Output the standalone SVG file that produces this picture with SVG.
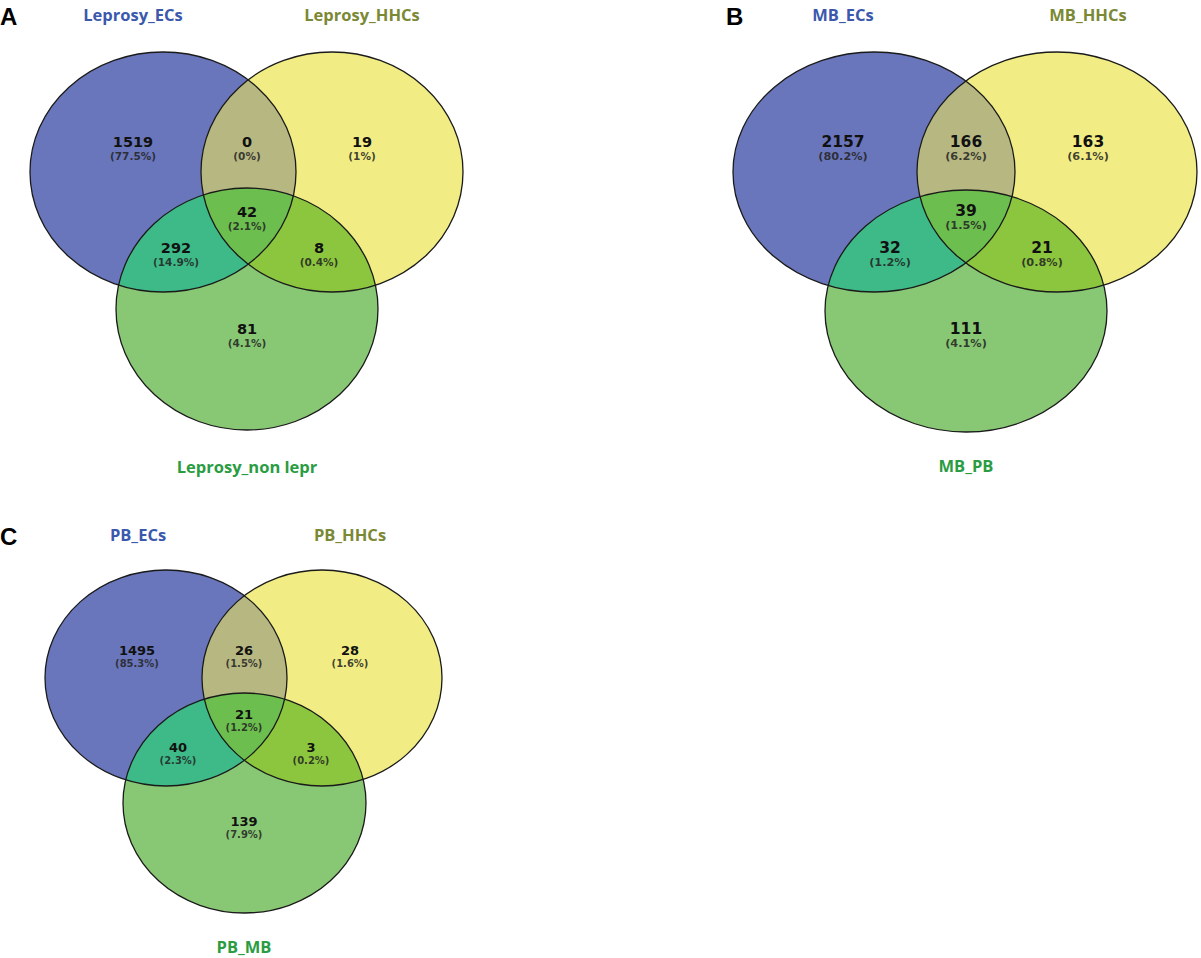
<svg xmlns="http://www.w3.org/2000/svg" width="1201" height="958" viewBox="0 0 1201 958">
<style>
.pl{font-family:"Liberation Sans",Arial,sans-serif;font-weight:bold;font-size:24px;fill:#000}
.lab{font-family:"Open Sans","Noto Sans",sans-serif;font-weight:bold;font-size:16.5px;text-anchor:middle}
.lb{fill:#3a59ad}.ly{fill:#7b8834}.lg{fill:#2a9c42}
.n{font-family:"DejaVu Sans",sans-serif;font-weight:bold;text-anchor:middle;fill:#111}
.p{font-family:"DejaVu Sans",sans-serif;font-weight:bold;text-anchor:middle;fill:#222;fill-opacity:0.85}
.A .n{font-size:14.5px}.A .p{font-size:10.5px}
.B .n{font-size:15.5px}.B .p{font-size:11.3px}
.C .n{font-size:13px}.C .p{font-size:10px}
.o{fill:none;stroke:#1a1a1a;stroke-width:1.3}
.cb{fill:#6a76bb}.cy{fill:#f1ed84}.cg{fill:#88c874}.cby{fill:#b6b781}.cbg{fill:#3dba88}.cyg{fill:#8cc63e}.cc{fill:#6cbf4f}
</style>
<defs>
<clipPath id="Ab"><ellipse cx="163" cy="172" rx="133" ry="120"/></clipPath>
<clipPath id="Ay"><ellipse cx="332" cy="172" rx="131" ry="120"/></clipPath>
<clipPath id="Bb"><ellipse cx="874" cy="172" rx="141" ry="120"/></clipPath>
<clipPath id="By"><ellipse cx="1057" cy="172" rx="140" ry="120"/></clipPath>
<clipPath id="Cb"><ellipse cx="166" cy="678" rx="121" ry="108"/></clipPath>
<clipPath id="Cy"><ellipse cx="322" cy="678" rx="120" ry="108"/></clipPath>
</defs>

<g id="panelA" class="A">
<text class="pl" x="0" y="25">A</text>
<text class="lab lb" x="133" y="21">Leprosy_ECs</text>
<text class="lab ly" x="362" y="21">Leprosy_HHCs</text>
<text class="lab lg" x="247" y="473">Leprosy_non lepr</text>
<ellipse class="cb" cx="163" cy="172" rx="133" ry="120"/>
<ellipse class="cy" cx="332" cy="172" rx="131" ry="120"/>
<ellipse class="cby" cx="332" cy="172" rx="131" ry="120" clip-path="url(#Ab)"/>
<ellipse class="cg" cx="247" cy="309" rx="131" ry="121"/>
<ellipse class="cbg" cx="247" cy="309" rx="131" ry="121" clip-path="url(#Ab)"/>
<ellipse class="cyg" cx="247" cy="309" rx="131" ry="121" clip-path="url(#Ay)"/>
<g clip-path="url(#Ab)"><ellipse class="cc" cx="247" cy="309" rx="131" ry="121" clip-path="url(#Ay)"/></g>
<ellipse class="o" cx="163" cy="172" rx="133" ry="120"/>
<ellipse class="o" cx="332" cy="172" rx="131" ry="120"/>
<ellipse class="o" cx="247" cy="309" rx="131" ry="121"/>
<g id="A-nums">
<text class="n" x="133" y="147">1519</text><text class="p" x="133" y="160">(77.5%)</text>
<text class="n" x="247" y="147">0</text><text class="p" x="247" y="160">(0%)</text>
<text class="n" x="362" y="147">19</text><text class="p" x="362" y="160">(1%)</text>
<text class="n" x="247" y="217">42</text><text class="p" x="247" y="230">(2.1%)</text>
<text class="n" x="176" y="253">292</text><text class="p" x="176" y="266">(14.9%)</text>
<text class="n" x="319" y="253">8</text><text class="p" x="319" y="266">(0.4%)</text>
<text class="n" x="247" y="334">81</text><text class="p" x="247" y="347">(4.1%)</text>
</g>
</g>

<g id="panelB" class="B">
<text class="pl" x="726" y="25">B</text>
<text class="lab lb" x="843" y="21">MB_ECs</text>
<text class="lab ly" x="1088" y="21">MB_HHCs</text>
<text class="lab lg" x="966" y="472">MB_PB</text>
<ellipse class="cb" cx="874" cy="172" rx="141" ry="120"/>
<ellipse class="cy" cx="1057" cy="172" rx="140" ry="120"/>
<ellipse class="cby" cx="1057" cy="172" rx="140" ry="120" clip-path="url(#Bb)"/>
<ellipse class="cg" cx="966" cy="311" rx="141" ry="121"/>
<ellipse class="cbg" cx="966" cy="311" rx="141" ry="121" clip-path="url(#Bb)"/>
<ellipse class="cyg" cx="966" cy="311" rx="141" ry="121" clip-path="url(#By)"/>
<g clip-path="url(#Bb)"><ellipse class="cc" cx="966" cy="311" rx="141" ry="121" clip-path="url(#By)"/></g>
<ellipse class="o" cx="874" cy="172" rx="141" ry="120"/>
<ellipse class="o" cx="1057" cy="172" rx="140" ry="120"/>
<ellipse class="o" cx="966" cy="311" rx="141" ry="121"/>
<g id="B-nums">
<text class="n" x="843" y="147">2157</text><text class="p" x="843" y="160">(80.2%)</text>
<text class="n" x="966" y="147">166</text><text class="p" x="966" y="160">(6.2%)</text>
<text class="n" x="1088" y="147">163</text><text class="p" x="1088" y="160">(6.1%)</text>
<text class="n" x="966" y="216">39</text><text class="p" x="966" y="229">(1.5%)</text>
<text class="n" x="890" y="253">32</text><text class="p" x="890" y="266">(1.2%)</text>
<text class="n" x="1042" y="253">21</text><text class="p" x="1042" y="266">(0.8%)</text>
<text class="n" x="966" y="334">111</text><text class="p" x="966" y="347">(4.1%)</text>
</g>
</g>

<g id="panelC" class="C">
<text class="pl" x="0" y="545">C</text>
<text class="lab lb" x="138" y="541">PB_ECs</text>
<text class="lab ly" x="350" y="541">PB_HHCs</text>
<text class="lab lg" x="244" y="953">PB_MB</text>
<ellipse class="cb" cx="166" cy="678" rx="121" ry="108"/>
<ellipse class="cy" cx="322" cy="678" rx="120" ry="108"/>
<ellipse class="cby" cx="322" cy="678" rx="120" ry="108" clip-path="url(#Cb)"/>
<ellipse class="cg" cx="244.5" cy="803" rx="121.5" ry="110"/>
<ellipse class="cbg" cx="244.5" cy="803" rx="121.5" ry="110" clip-path="url(#Cb)"/>
<ellipse class="cyg" cx="244.5" cy="803" rx="121.5" ry="110" clip-path="url(#Cy)"/>
<g clip-path="url(#Cb)"><ellipse class="cc" cx="244.5" cy="803" rx="121.5" ry="110" clip-path="url(#Cy)"/></g>
<ellipse class="o" cx="166" cy="678" rx="121" ry="108"/>
<ellipse class="o" cx="322" cy="678" rx="120" ry="108"/>
<ellipse class="o" cx="244.5" cy="803" rx="121.5" ry="110"/>
<g id="C-nums">
<text class="n" x="137" y="655">1495</text><text class="p" x="137" y="667">(85.3%)</text>
<text class="n" x="244" y="655">26</text><text class="p" x="244" y="667">(1.5%)</text>
<text class="n" x="350" y="655">28</text><text class="p" x="350" y="667">(1.6%)</text>
<text class="n" x="244" y="719">21</text><text class="p" x="244" y="731">(1.2%)</text>
<text class="n" x="178" y="752">40</text><text class="p" x="178" y="764">(2.3%)</text>
<text class="n" x="311" y="752">3</text><text class="p" x="311" y="764">(0.2%)</text>
<text class="n" x="244" y="826">139</text><text class="p" x="244" y="838">(7.9%)</text>
</g>
</g>
</svg>
